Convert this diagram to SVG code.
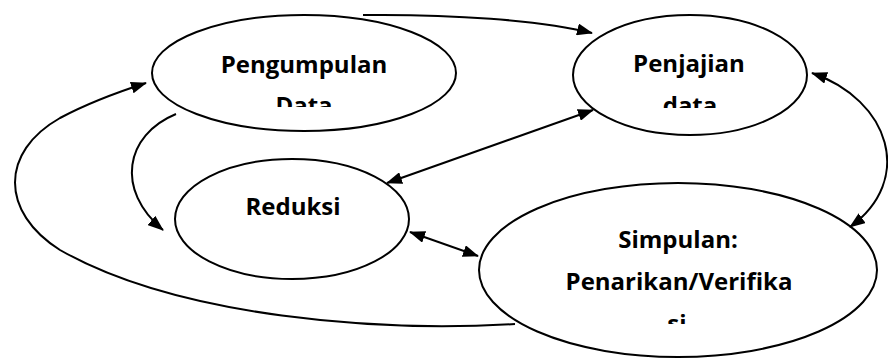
<svg xmlns="http://www.w3.org/2000/svg" width="888" height="360" viewBox="0 0 888 360">
  <style>
    .node { fill: #ffffff; stroke: #000000; stroke-width: 2; }
    .label { font-family: "Open Sans", "Liberation Sans", sans-serif; font-weight: bold; font-size: 24px; fill: #000000; text-anchor: middle; }
    .edge { fill: none; stroke: #000000; stroke-width: 2; }
  </style>
  <defs>
    <marker id="head" viewBox="0 0 16 12" refX="15" refY="6" markerWidth="16" markerHeight="12" markerUnits="userSpaceOnUse" orient="auto-start-reverse">
      <path d="M0,0 L16,6 L0,12 z" fill="#000000"/>
    </marker>
    <!-- text boxes cut the last line of each label -->
    <clipPath id="clip-pengumpulan"><rect x="150" y="30" width="310" height="77"/></clipPath>
    <clipPath id="clip-penjajian"><rect x="575" y="30" width="230" height="78"/></clipPath>
    <clipPath id="clip-simpulan"><rect x="480" y="200" width="395" height="124"/></clipPath>
  </defs>

  <g id="node-pengumpulan">
    <ellipse class="node" cx="304" cy="73" rx="152" ry="58"/>
    <g clip-path="url(#clip-pengumpulan)">
      <text class="label" x="304" y="73">Pengumpulan</text>
      <text class="label" x="304" y="114">Data</text>
    </g>
  </g>

  <g id="node-penjajian">
    <ellipse class="node" cx="690" cy="75" rx="117" ry="60"/>
    <g clip-path="url(#clip-penjajian)">
      <text class="label" x="689" y="72">Penjajian</text>
      <text class="label" x="690" y="114">data</text>
    </g>
  </g>

  <g id="node-reduksi">
    <ellipse class="node" cx="292" cy="219" rx="117" ry="60"/>
    <text class="label" x="293" y="215">Reduksi</text>
  </g>

  <g id="node-simpulan">
    <ellipse class="node" cx="678" cy="270" rx="199" ry="87"/>
    <g clip-path="url(#clip-simpulan)">
      <text class="label" x="678" y="248">Simpulan:</text>
      <text class="label" x="679" y="290">Penarikan/Verifika</text>
      <text class="label" x="677" y="332">si</text>
    </g>
  </g>

  <g id="connectors">
    <!-- Pengumpulan Data -> Penjajian data (over the top) -->
    <path class="edge" d="M363,15 C450,14 540,20 592,33" marker-end="url(#head)"/>
    <!-- Penjajian data <-> Reduksi -->
    <path class="edge" d="M593,110 L387,183" marker-start="url(#head)" marker-end="url(#head)"/>
    <!-- Pengumpulan Data -> Reduksi -->
    <path class="edge" d="M176,114 C125,135 115,190 163,230" marker-end="url(#head)"/>
    <!-- Simpulan -> Pengumpulan Data (outer loop) -->
    <path class="edge" d="M515,324 C380,332 180,318 60,250 C0,212 0,152 60,118 C90,102 118,92 146,83" marker-end="url(#head)"/>
    <!-- Reduksi <-> Simpulan -->
    <path class="edge" d="M410,232 L478,256" marker-start="url(#head)" marker-end="url(#head)"/>
    <!-- Penjajian data <-> Simpulan (right side) -->
    <path class="edge" d="M812,73 C890,100 915,180 850,227" marker-start="url(#head)" marker-end="url(#head)"/>
  </g>
</svg>
